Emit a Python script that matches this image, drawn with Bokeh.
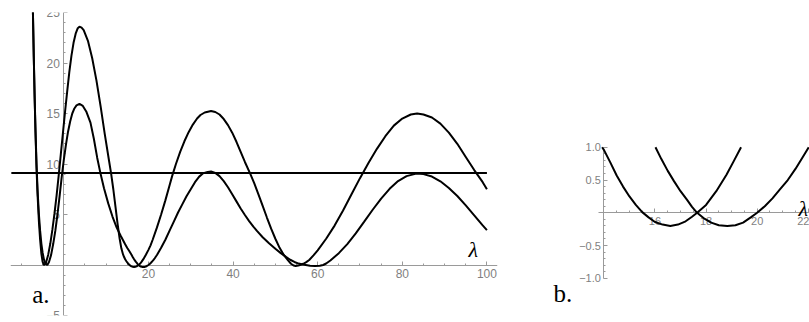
from bokeh.plotting import figure
from bokeh.models import Range1d, FixedTicker, CustomJSTickFormatter
from bokeh.layouts import row
from bokeh.core.properties import value
from bokeh.embed import file_html
from bokeh.resources import INLINE

# ---------------- panel a data ----------------
big_x = [-7.75, -7.3, -7.1, -6.9, -6.7, -6.45, -6.2, -5.9, -5.6, -5.3, -5.0, -4.7, -4.4, -4.2,
         -3.7, -3.2, -2.7, -2.2, -1.7, -1.2, -0.7, -0.2, 0.3, 0.8, 1.3, 1.8, 2.3, 2.8, 3.3, 3.7,
         4.2, 4.7, 5.7, 6.7, 7.7, 8.7, 9.7, 10.7, 11.2, 11.7, 12.2, 12.7, 13.2, 13.6, 14.0,
         14.25, 14.5, 14.75, 15.0, 15.25, 15.5, 15.75, 16.0, 16.3, 16.6, 16.9, 17.2, 17.45, 17.65,
         18.0, 18.4, 18.8, 19.1, 19.4, 20.0, 20.5, 21.0, 22.0, 23.0, 24.0, 25.0, 25.6, 26.5, 27.5,
         28.5, 29.5, 30.5, 31.5, 32.3, 33.3, 34.8, 35.8, 36.8, 37.8, 38.8, 39.8, 40.8, 41.8, 42.8,
         44.1, 45.0, 46.0, 47.0, 48.0, 49.0, 50.0, 51.0, 52.0, 53.0, 53.7, 54.3, 54.8, 55.4, 56.0,
         56.6, 57.3, 58.0, 59.0, 60.0, 62.0, 64.0, 66.0, 68.0, 70.0, 72.0, 74.0, 76.0, 78.0, 80.0,
         82.0, 83.5, 85.0, 87.0, 89.0, 91.0, 93.0, 95.0, 97.0, 99.0, 100.0]
big_y = [35.0, 25.0, 20.6, 16.6, 13.2, 9.6, 6.9, 4.4, 2.5, 1.1, 0.3, 0.0, 0.1, 0.25,
         1.0, 2.1, 3.5, 5.1, 6.9, 8.9, 11.0, 13.1, 15.2, 17.2, 19.1, 20.7, 22.0, 22.9, 23.45, 23.6,
         23.5, 23.25, 22.2, 20.5, 18.3, 15.7, 12.9, 10.3, 9.0, 7.5, 5.8, 4.1, 2.6, 1.65, 1.05,
         0.79, 0.57, 0.40, 0.25, 0.12, 0.01, -0.07, -0.14, -0.18, -0.2, -0.18, -0.13, -0.06, 0.0,
         0.12, 0.33, 0.58, 0.8, 1.02, 1.5, 1.95, 2.5, 3.7, 5.0, 6.4, 7.9, 8.8, 10.0, 11.2,
         12.25, 13.15, 13.9, 14.5, 14.85, 15.1, 15.25, 15.15, 14.9, 14.45, 13.85, 13.1, 12.2, 11.2, 10.2,
         9.0, 8.1, 7.0, 5.85, 4.7, 3.6, 2.6, 1.7, 1.0, 0.45, 0.12, -0.05, -0.1, -0.06, 0.02,
         0.12, 0.28, 0.5, 0.95, 1.45, 2.6, 3.9, 5.4, 7.0, 8.6, 10.1, 11.5, 12.75, 13.8, 14.5,
         14.9, 15.0, 14.9, 14.6, 14.0, 13.1, 12.0, 10.7, 9.4, 8.2, 7.5]

small_x = [-7.75, -7.3, -7.1, -6.9, -6.7, -6.45, -6.2, -5.9, -5.6, -5.3, -5.0, -4.7, -4.4, -4.1,
           -3.9, -3.5, -3.0, -2.5, -2.0, -1.5, -1.0, -0.5, 0.0, 0.5, 1.0, 1.5, 2.0, 2.5, 3.0, 3.7,
           4.5, 5.3, 6.3, 7.1, 7.9, 8.7, 9.5, 10.5, 11.5, 12.5, 13.5, 14.5, 15.0, 15.5, 16.0,
           16.25, 16.5, 16.75, 17.0, 17.25, 17.45, 17.65, 17.9, 18.2, 18.5, 18.83, 19.15, 19.45,
           19.75, 20.0, 20.3, 20.6, 20.9, 21.2, 21.5, 21.8, 22.05, 23.0, 24.0, 25.0, 26.0, 27.0,
           28.0, 29.0, 30.0, 31.0, 32.0, 33.0, 34.0, 34.8, 35.8, 36.8, 37.8, 38.8, 39.8, 40.8,
           41.8, 42.8, 43.8, 44.8, 45.7, 47.0, 48.5, 50.0, 51.2, 52.5, 53.5, 54.5, 55.5, 56.5,
           57.2, 58.2, 59.4, 60.5, 61.3, 62.0, 63.0, 65.0, 67.0, 69.0, 71.0, 73.0, 75.0, 77.0,
           79.0, 81.0, 83.3, 85.0, 87.0, 89.0, 91.0, 93.0, 95.0, 97.0, 99.0, 100.0]
small_y = [35.0, 25.0, 20.7, 16.8, 13.5, 10.0, 7.4, 5.1, 3.4, 2.1, 1.2, 0.55, 0.22, 0.05,
           0.0, 0.3, 1.0, 2.1, 3.4, 5.0, 6.8, 8.7, 10.4, 11.9, 13.2, 14.2, 15.0, 15.5, 15.8, 15.95,
           15.75, 15.2, 14.1, 12.5, 10.6, 9.0, 7.6, 6.1, 4.8, 3.7, 2.85, 2.05, 1.68, 1.36, 1.01,
           0.82, 0.64, 0.48, 0.33, 0.2, 0.09, 0.0, -0.08, -0.15, -0.19, -0.2, -0.19, -0.15,
           -0.07, 0.0, 0.1, 0.22, 0.36, 0.5, 0.67, 0.86, 1.02, 1.7, 2.5, 3.4, 4.3, 5.2,
           6.0, 6.8, 7.5, 8.2, 8.75, 9.1, 9.22, 9.25, 9.12, 8.8, 8.3, 7.7, 7.0, 6.3,
           5.6, 4.95, 4.35, 3.8, 3.35, 2.75, 2.15, 1.6, 1.2, 0.8, 0.52, 0.3, 0.14, 0.04,
           0.0, -0.07, -0.1, -0.07, 0.0, 0.15, 0.45, 1.17, 2.07, 3.13, 4.29, 5.47, 6.58, 7.54,
           8.31, 8.8, 9.05, 9.0, 8.76, 8.29, 7.63, 6.83, 5.9, 4.92, 3.92, 3.45]

level_x = [-12.4, 100.0]
level_y = [9.1, 9.1]

a_xticks = [20, 40, 60, 80, 100]
a_xminor = [-10, -5, 5, 10, 15, 25, 30, 35, 45, 50, 55, 65, 70, 75, 85, 90, 95]
a_yticks = [-5, 5, 10, 15, 20, 25]
a_yminor = [-4, -3, -2, -1, 1, 2, 3, 4, 6, 7, 8, 9, 11, 12, 13, 14, 16, 17, 18, 19, 21, 22, 23, 24]

# ---------------- panel b data ----------------
bA_x = [13.93, 14.0, 14.25, 14.5, 14.75, 15.0, 15.25, 15.5, 15.75, 16.0, 16.3, 16.6, 16.9,
        17.2, 17.45, 17.65, 18.0, 18.4, 18.8, 19.1, 19.37]
bA_y = [1.0, 0.96, 0.77, 0.57, 0.40, 0.25, 0.12, 0.01, -0.07, -0.14, -0.18, -0.2, -0.18,
        -0.13, -0.06, 0.0, 0.12, 0.33, 0.58, 0.8, 1.0]
bB_x = [16.02, 16.25, 16.5, 16.75, 17.0, 17.25, 17.45, 17.65, 17.9, 18.2, 18.5, 18.83,
        19.15, 19.45, 19.75, 20.0, 20.3, 20.6, 20.9, 21.2, 21.5, 21.8, 22.02]
bB_y = [1.0, 0.82, 0.64, 0.48, 0.33, 0.2, 0.09, 0.0, -0.08, -0.15, -0.19, -0.2,
        -0.19, -0.15, -0.07, 0.0, 0.1, 0.22, 0.36, 0.5, 0.67, 0.86, 1.0]

b_xticks = [16, 18, 20, 22]
b_xminor = [14.5, 15, 15.5, 16.5, 17, 17.5, 18.5, 19, 19.5, 20.5, 21, 21.5]
b_yticks = [-1.0, -0.5, 0.5, 1.0]
b_yminor = [-0.9, -0.8, -0.7, -0.6, -0.4, -0.3, -0.2, -0.1, 0.1, 0.2, 0.3, 0.4, 0.6, 0.7, 0.8, 0.9]

AXIS_COL = "#9a9a9a"
LABEL_COL = "#7f7f7f"
SANS = "Liberation Sans"
SERIF = "Liberation Serif"


def style_axes(p, size):
    for ax in (p.xaxis[0], p.yaxis[0]):
        ax.axis_line_color = AXIS_COL
        ax.major_tick_line_color = AXIS_COL
        ax.minor_tick_line_color = AXIS_COL
        ax.major_tick_in = 4
        ax.major_tick_out = 0
        ax.minor_tick_in = 2
        ax.minor_tick_out = 0
        ax.major_label_text_font = SANS
        ax.major_label_text_font_size = size
        ax.major_label_text_color = LABEL_COL
        ax.major_label_standoff = 4
        ax.level = "underlay"


MINUS_FMT = "return (tick < 0 ? '\u2212' : '') + Math.abs(tick).toFixed(%d)"

BORDER_TOP = 12
BORDER_BOTTOM = 7

# ---------------- panel a ----------------
p1 = figure(width=549, height=322, x_range=Range1d(-12.6, 102.5), y_range=Range1d(-5, 25),
            output_backend="svg", toolbar_location=None, title=None,
            min_border_left=10, min_border_right=52,
            min_border_top=BORDER_TOP, min_border_bottom=BORDER_BOTTOM)
p1.outline_line_color = None
p1.grid.visible = False
p1.xaxis.fixed_location = 0
p1.yaxis.fixed_location = 0
p1.xaxis.ticker = FixedTicker(ticks=a_xticks, minor_ticks=a_xminor)
p1.yaxis.ticker = FixedTicker(ticks=a_yticks, minor_ticks=a_yminor)
p1.xaxis.formatter = CustomJSTickFormatter(code=MINUS_FMT % 0)
p1.yaxis.formatter = CustomJSTickFormatter(code=MINUS_FMT % 0)
style_axes(p1, "12px")

p1.line(level_x, level_y, line_color="black", line_width=2)
p1.line(big_x, big_y, line_color="black", line_width=2)
p1.line(small_x, small_y, line_color="black", line_width=2)

p1.text(x=[96.8], y=[1.5], text=["λ"], text_font=value(SERIF), text_font_style="italic",
        text_font_size=value("22px"), text_align="center", text_baseline="middle", text_color="black")
p1.text(x=[-7.47], y=[-2.95], text=["a."], text_font=value(SERIF),
        text_font_size=value("25px"), text_align="left", text_baseline="alphabetic", text_color="black")

# ---------------- panel b ----------------
# frame spans the figure; data [-1,1] lands on the same pixels as in the reference
p2 = figure(width=260, height=322, x_range=Range1d(11.87, 22.05), y_range=Range1d(-1.568, 3.058),
            output_backend="svg", toolbar_location=None, title=None,
            min_border_left=0, min_border_right=0,
            min_border_top=BORDER_TOP, min_border_bottom=BORDER_BOTTOM)
p2.outline_line_color = None
p2.grid.visible = False
p2.xaxis.fixed_location = 0
p2.yaxis.fixed_location = 14
p2.xaxis.bounds = (13.79, 22.05)
p2.yaxis.bounds = (-1.0, 1.0)
p2.xaxis.ticker = FixedTicker(ticks=b_xticks, minor_ticks=b_xminor)
p2.yaxis.ticker = FixedTicker(ticks=b_yticks, minor_ticks=b_yminor)
p2.xaxis.formatter = CustomJSTickFormatter(code=MINUS_FMT % 0)
p2.yaxis.formatter = CustomJSTickFormatter(code=MINUS_FMT % 1)
style_axes(p2, "11px")
p2.yaxis.major_label_standoff = 3

p2.line(bA_x, bA_y, line_color="black", line_width=2)
p2.line(bB_x, bB_y, line_color="black", line_width=2)
p2.text(x=[21.81], y=[0.07], text=["λ"], text_font=value(SERIF), text_font_style="italic",
        text_font_size=value("22px"), text_align="center", text_baseline="middle", text_color="black")
p2.text(x=[12.03], y=[-1.23], text=["b."], text_font=value(SERIF),
        text_font_size=value("25px"), text_align="left", text_baseline="alphabetic", text_color="black")

layout = row(p1, p2)
open("out.html", "w").write(file_html(layout, INLINE))
